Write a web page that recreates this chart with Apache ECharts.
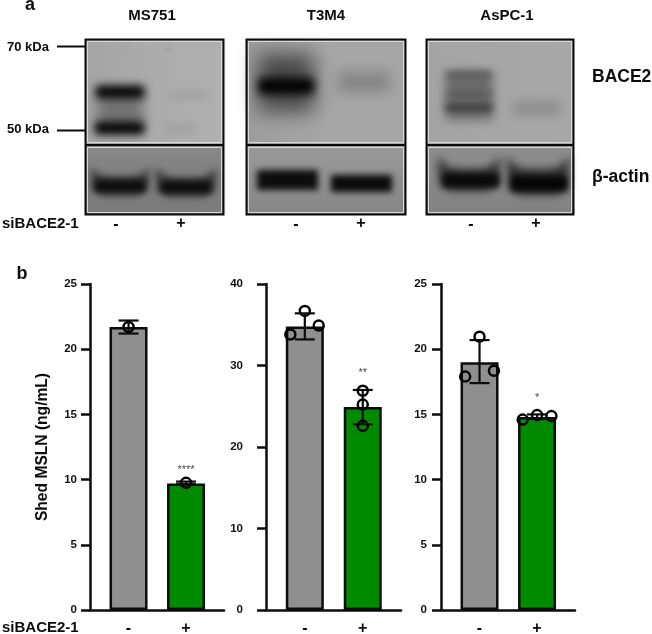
<!DOCTYPE html>
<html><head><meta charset="utf-8">
<script src="https://cdn.jsdelivr.net/npm/echarts@6/dist/echarts.min.js"></script>
<style>html,body{margin:0;padding:0;background:#fff}#c{width:652px;height:634px}</style>
</head><body><div id="c"></div>
<script>
// ---- data ----
const treatment = ['-', '+'];
const positions = [1, 2];
const yMaxes = [25, 40, 25];
const yIntervals = [5, 10, 5];
const ms751Means = [21.7, 9.7];
const ms751Lows = [21.2, 9.65];
const ms751Highs = [22.2, 9.85];
const ms751Points = [[1, 21.7], [2, 9.75]];
const t3m4Means = [34.8, 24.9];
const t3m4Lows = [33.2, 22.8];
const t3m4Highs = [36.4, 27.0];
const t3m4Points = [[1, 36.7], [0.75, 33.8], [1.24, 34.9], [2, 26.9], [2, 25.2], [2, 22.6]];
const aspc1Means = [19.0, 14.8];
const aspc1Lows = [17.4, 14.65];
const aspc1Highs = [20.7, 15.0];
const aspc1Points = [[1, 20.96], [0.75, 17.9], [1.25, 18.35], [1.75, 14.6], [2, 14.95], [2.25, 14.87]];
const sigLabels = ['****', '**', '*'];
const sigValues = [10.75, 29.1, 16.25];

const fontName = '"Liberation Sans", Arial, sans-serif';
const barColors = ['#8f8f8f', '#008a00'];
const ink = '#0c0c0c';

// ---- chart panels ----
const frames = [
  {left: 90, width: 134, margin: 13},
  {left: 266, width: 135, margin: 23},
  {left: 441, width: 134, margin: 14}
];
const sets = [
  [ms751Means, ms751Lows, ms751Highs, ms751Points],
  [t3m4Means, t3m4Lows, t3m4Highs, t3m4Points],
  [aspc1Means, aspc1Lows, aspc1Highs, aspc1Points]
];
const grid = [], xAxis = [], yAxis = [], series = [];
frames.forEach((f, i) => {
  const [means, lows, highs, pts] = sets[i];
  grid.push({left: f.left, width: f.width, top: 284, height: 326, outerBoundsMode: 'none'});
  xAxis.push({
    gridIndex: i, type: 'value', min: 0.33, max: 2.66, position: 'bottom',
    splitLine: {show: false}, axisTick: {show: false},
    axisLine: {show: true, onZero: false, lineStyle: {color: ink, width: 2.5}},
    axisLabel: {show: true, customValues: positions, margin: 11, color: ink,
      fontFamily: fontName, fontWeight: 'bold', fontSize: 16,
      formatter: v => treatment[positions.indexOf(v)]}
  });
  yAxis.push({
    gridIndex: i, type: 'value', min: 0, max: yMaxes[i], interval: yIntervals[i],
    splitLine: {show: false},
    axisLine: {show: true, onZero: false, lineStyle: {color: ink, width: 2.5}},
    axisTick: {show: true, length: 9, lineStyle: {color: ink, width: 2.5}},
    axisLabel: {margin: f.margin, color: '#111', fontFamily: fontName, fontWeight: 'bold', fontSize: 11.5},
    name: i === 0 ? 'Shed MSLN (ng/mL)' : '', nameLocation: 'middle', nameGap: 39,
    nameTextStyle: {color: ink, fontFamily: fontName, fontWeight: 'bold', fontSize: 15.6}
  });
  series.push({
    type: 'bar', xAxisIndex: i, yAxisIndex: i, barWidth: 38, silent: true,
    data: means.map((m, k) => ({value: [positions[k], m],
      itemStyle: {color: barColors[k], borderColor: ink, borderWidth: 2.5}}))
  });
  series.push({
    type: 'custom', xAxisIndex: i, yAxisIndex: i, silent: true, clip: false, z: 5,
    data: means.map((m, k) => [positions[k], lows[k], highs[k]]),
    renderItem: (p, api) => {
      const a = api.coord([api.value(0), api.value(1)]);
      const b = api.coord([api.value(0), api.value(2)]);
      const st = {stroke: ink, lineWidth: 2.2, fill: null};
      const line = (x1, y1, x2, y2) => ({type: 'line', shape: {x1, y1, x2, y2}, style: st});
      return {type: 'group', children: [
        line(a[0], a[1], b[0], b[1]),
        line(a[0] - 10, a[1], a[0] + 10, a[1]),
        line(b[0] - 10, b[1], b[0] + 10, b[1])
      ]};
    }
  });
  series.push({
    type: 'scatter', xAxisIndex: i, yAxisIndex: i, silent: true, clip: false, z: 6,
    symbol: 'circle', symbolSize: 10,
    itemStyle: {color: 'rgba(0,0,0,0)', borderColor: '#000', borderWidth: 2.5, opacity: 1},
    data: pts
  });
  series.push({
    type: 'scatter', xAxisIndex: i, yAxisIndex: i, silent: true, clip: false, z: 6,
    symbolSize: 0,
    label: {show: true, position: 'inside', formatter: sigLabels[i], color: '#111',
      fontFamily: fontName, fontWeight: 'normal', fontSize: 11},
    data: [[2, sigValues[i]]]
  });
});

// ---- blot artwork (decoration, not data) ----
const OFF = 3000;
function blob(points, blur, color, z) {
  return {type: 'polygon', z: z || 1, silent: true,
    shape: {points: points.map(p => [p[0] - OFF, p[1]])},
    style: {fill: color, shadowColor: color, shadowBlur: blur, shadowOffsetX: OFF, shadowOffsetY: 0}};
}
function bar(x, y, w, h, blur, color) {
  return blob([[x, y], [x + w, y], [x + w, y + h], [x, y + h]], blur, color);
}
function smile(x, w, top, midTop, bottom, blur, color) {
  // U-shaped actin band
  return blob([[x, top], [x + w * 0.15, midTop - 2], [x + w * 0.35, midTop], [x + w * 0.65, midTop],
    [x + w * 0.85, midTop - 2], [x + w, top], [x + w - 1, bottom - 6], [x + w - 12, bottom],
    [x + 12, bottom], [x + 1, bottom - 6]], blur, color);
}
function rectEl(x, y, w, h, style, z) {
  return {type: 'rect', z: z || 0, silent: true, shape: {x, y, width: w, height: h}, style};
}
const hGrad = (a, b, c) => ({type: 'linear', x: 0, y: 0, x2: 1, y2: 0,
  colorStops: [{offset: 0, color: a}, {offset: 0.5, color: b}, {offset: 1, color: c}]});
const vGrad = (a, b, c) => ({type: 'linear', x: 0, y: 0, x2: 0, y2: 1,
  colorStops: [{offset: 0, color: a}, {offset: 0.5, color: b}, {offset: 1, color: c}]});
const blotPanels = [
  {x: 85, w: 139, top: hGrad('#a4a4a4', '#acacac', '#b0b0b0'), bottom: vGrad('#8a8a8a', '#7c7c7c', '#7c7c7c')},
  {x: 246, w: 160, top: hGrad('#9c9c9c', '#a6a6a6', '#a6a6a6'), bottom: vGrad('#9a9a9a', '#909090', '#868686')},
  {x: 426, w: 148, top: hGrad('#a4a4a4', '#a6a6a6', '#a8a8a8'), bottom: vGrad('#8c8c8c', '#8a8a8a', '#808080')}
];
const blotBands = [
  // MS751
  bar(97, 88, 46, 44, 12, '#727272'),
  bar(96, 86, 48, 12, 8, '#000000'),
  bar(95, 122, 49, 12, 8, '#000000'),
  bar(168, 94, 40, 3, 9, '#8e8e8e'),
  bar(165, 126, 30, 5, 10, '#969696'),
  bar(125, 45, 3, 3, 5, '#969696'),
  bar(166, 48, 3, 3, 4, '#8a8a8a'),
  smile(91, 58, 168, 177, 196, 7, '#3a3a3a'),
  smile(156, 60, 168, 178, 197, 7, '#3a3a3a'),
  bar(95, 180, 50, 12, 6, '#0c0c0c'),
  bar(161, 181, 50, 12, 6, '#0c0c0c'),
  // T3M4
  bar(258, 54, 56, 58, 20, '#484848'),
  bar(258, 78, 56, 16, 10, '#000000'),
  bar(338, 72, 52, 20, 14, '#848484'),
  bar(257, 170, 61, 20, 6, '#0c0c0c'),
  bar(331, 175, 61, 17, 6, '#0a0a0a'),
  // AsPC-1
  bar(445, 72, 48, 48, 10, '#6a6a6a'),
  bar(447, 72, 44, 5, 7, '#4e4e4e'),
  bar(447, 92, 44, 5, 7, '#565656'),
  bar(446, 104, 46, 7, 7, '#3a3a3a'),
  bar(513, 102, 48, 13, 12, '#8a8a8a'),
  smile(438, 62, 156, 169, 191, 8, '#2c2c2c'),
  smile(507, 62, 156, 169, 195, 8, '#2c2c2c'),
  bar(443, 174, 56, 13, 6, '#080808'),
  bar(511, 176, 56, 15, 6, '#050505')
];
const blotGraphics = [];
blotPanels.forEach(p => {
  blotGraphics.push(rectEl(p.x, 39, p.w, 107, {fill: p.top}));
  blotGraphics.push(rectEl(p.x, 145, p.w, 70, {fill: p.bottom}));
});
blotGraphics.push(...blotBands);
blotPanels.forEach(p => {
  const inner = {fill: null, stroke: '#d8d8d8', lineWidth: 1};
  blotGraphics.push(rectEl(p.x + 2.5, 41.5, p.w - 5, 101, inner, 2));
  blotGraphics.push(rectEl(p.x + 2.5, 147.5, p.w - 5, 65, inner, 2));
  const outer = {fill: null, stroke: '#0a0a0a', lineWidth: 2};
  blotGraphics.push(rectEl(p.x + 0.5, 39.5, p.w - 1, 175, outer, 3));
  blotGraphics.push({type: 'line', z: 3, silent: true, shape: {x1: p.x, y1: 145, x2: p.x + p.w, y2: 145},
    style: {stroke: '#0a0a0a', lineWidth: 2}});
});
function txt(s, x, y, size, align) {
  return {type: 'text', z: 4, silent: true, x, y,
    style: {text: s, fill: ink, fontFamily: fontName, fontWeight: 'bold', fontSize: size,
      textAlign: align || 'center', textVerticalAlign: 'middle', align: align || 'center', verticalAlign: 'middle'}};
}
const textGraphics = [
  txt('a', 30, 5, 18), txt('b', 22, 274, 18),
  txt('MS751', 152, 16, 15), txt('T3M4', 326, 16, 15), txt('AsPC-1', 507, 16, 15),
  txt('BACE2', 592, 77, 17.5, 'left'), txt('β-actin', 592, 177, 17.5, 'left'),
  txt('70 kDa', 7, 47, 13, 'left'), txt('50 kDa', 7, 129, 13, 'left'),
  txt('siBACE2-1', 2, 224, 15, 'left'), txt('siBACE2-1', 2, 628, 15, 'left'),
  txt('-', 116, 225, 16), txt('+', 181, 224, 16),
  txt('-', 296, 225, 16), txt('+', 361, 224, 16),
  txt('-', 471, 225, 16), txt('+', 536, 224, 16),
  {type: 'line', z: 4, silent: true, shape: {x1: 57, y1: 46.5, x2: 85, y2: 46.5}, style: {stroke: ink, lineWidth: 2}},
  {type: 'line', z: 4, silent: true, shape: {x1: 57, y1: 130.5, x2: 85, y2: 130.5}, style: {stroke: ink, lineWidth: 2}}
];

const chart = echarts.init(document.getElementById('c'), null, {renderer: 'canvas'});
chart.setOption({
  animation: false, backgroundColor: '#fff',
  grid, xAxis, yAxis, series,
  graphic: {elements: blotGraphics.concat(textGraphics)}
});
</script></body></html>
